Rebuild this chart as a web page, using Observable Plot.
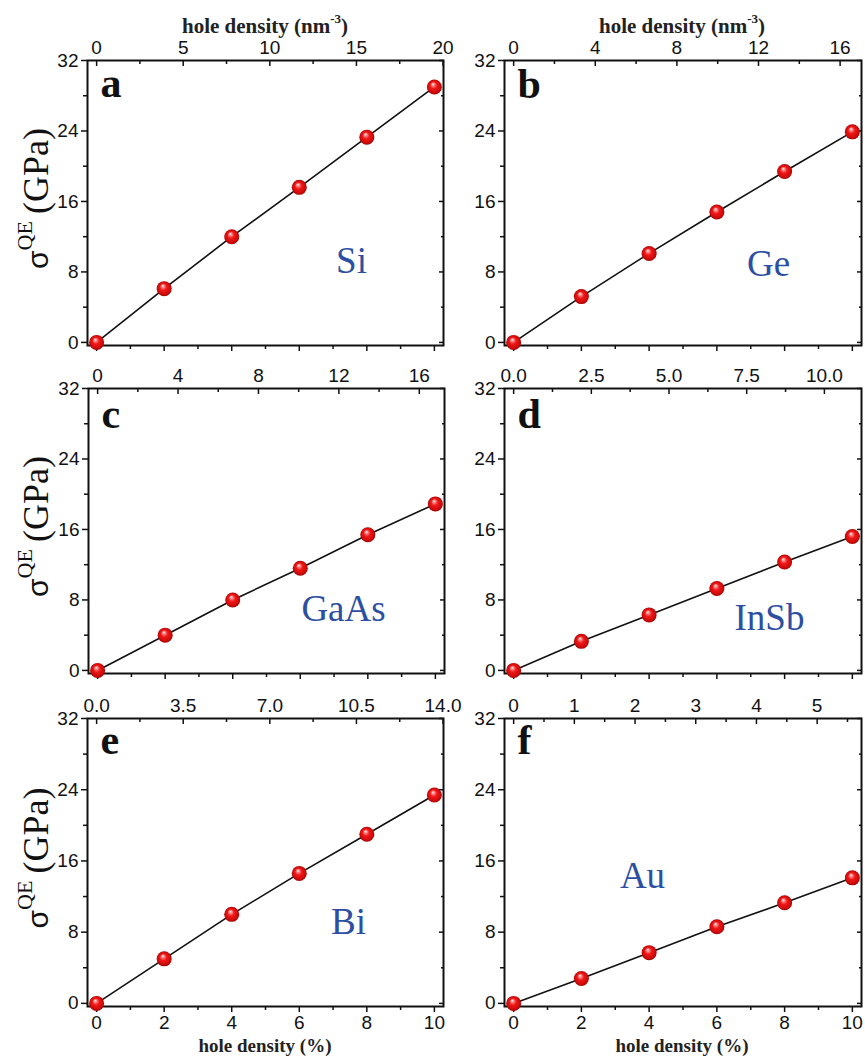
<!DOCTYPE html>
<html><head><meta charset="utf-8">
<script src="https://cdn.jsdelivr.net/npm/d3@7"></script>
<script src="https://cdn.jsdelivr.net/npm/@observablehq/plot@0.6"></script>
<style>
body{margin:0;background:#fff;}
#wrap{position:relative;width:865px;height:1058px;overflow:hidden;}
#wrap svg{position:absolute;}
</style></head><body>
<svg width="0" height="0" style="position:absolute"><defs>
<radialGradient id="ball" cx="0.5" cy="0.5" r="0.5" fx="0.4" fy="0.3">
<stop offset="0" stop-color="#ffffff"/>
<stop offset="0.18" stop-color="#ff8c8c"/>
<stop offset="0.45" stop-color="#f01818"/>
<stop offset="0.85" stop-color="#cc0a0a"/>
<stop offset="1" stop-color="#a00000"/>
</radialGradient></defs></svg>
<div id="wrap"></div>
<script>
// ---- data ----
const holePct = [0, 2, 4, 6, 8, 10];               // hole density (%)
const materials = ["Si", "Ge", "GaAs", "InSb", "Bi", "Au"];
const letters = ["a", "b", "c", "d", "e", "f"];
const stressSi   = [0, 6.1, 12.0, 17.6, 23.3, 29.0];   // sigma^QE (GPa)
const stressGe   = [0, 5.2, 10.1, 14.8, 19.4, 23.9];
const stressGaAs = [0, 4.0, 8.0, 11.6, 15.4, 18.9];
const stressInSb = [0, 3.3, 6.3, 9.3, 12.3, 15.2];
const stressBi   = [0, 5.0, 10.0, 14.6, 19.0, 23.4];
const stressAu   = [0, 2.8, 5.7, 8.6, 11.3, 14.1];
// hole density (nm^-3) that corresponds to 10 % holes, per material (top axes)
const nmAt10 = [19.5, 16.6, 16.8, 10.9, 13.65, 5.58];
const topLabelsSi   = ["0", "5", "10", "15", "20"];
const topLabelsGe   = ["0", "4", "8", "12", "16"];
const topLabelsGaAs = ["0", "4", "8", "12", "16"];
const topLabelsInSb = ["0.0", "2.5", "5.0", "7.5", "10.0"];
const topLabelsBi   = ["0.0", "3.5", "7.0", "10.5", "14.0"];
const topLabelsAu   = ["0", "1", "2", "3", "4", "5"];
const topMinorSi   = [2.5, 7.5, 12.5, 17.5];
const topMinorGe   = [2, 6, 10, 14];
const topMinorGaAs = [2, 6, 10, 14];
const topMinorInSb = [1.25, 3.75, 6.25, 8.75];
const topMinorBi   = [1.75, 5.25, 8.75, 12.25];
const topMinorAu   = [0.5, 1.5, 2.5, 3.5, 4.5, 5.5];
const yTicks = [0, 8, 16, 24, 32];
const yMinor = [4, 12, 20, 28];
const pctTicks = [0, 2, 4, 6, 8, 10];
const pctMinor = [1, 3, 5, 7, 9];

const stresses = [stressSi, stressGe, stressGaAs, stressInSb, stressBi, stressAu];
const topLabels = [topLabelsSi, topLabelsGe, topLabelsGaAs, topLabelsInSb, topLabelsBi, topLabelsAu];
const topMinors = [topMinorSi, topMinorGe, topMinorGaAs, topMinorInSb, topMinorBi, topMinorAu];

// ---- layout (positions/sizes) ----
const layout = [
  {left:0,   top:0,   width:450, height:357, mt:60, mb:12, ml:87, mr:7, bottomText:false, letterDy:36, nameDx:264, nameDy:212},
  {left:430, top:0,   width:435, height:357, mt:60, mb:12, ml:74, mr:4, bottomText:false, letterDy:37, nameDx:264, nameDy:215},
  {left:0,   top:345, width:450, height:340, mt:43, mb:12, ml:88, mr:6, bottomText:false, letterDy:39, nameDx:255, nameDy:232},
  {left:430, top:345, width:435, height:340, mt:43, mb:12, ml:74, mr:4, bottomText:false, letterDy:39, nameDx:265, nameDy:241},
  {left:0,   top:680, width:450, height:378, mt:38, mb:52, ml:87, mr:7, bottomText:true,  letterDy:35, nameDx:261, nameDy:215},
  {left:430, top:680, width:435, height:378, mt:38, mb:52, ml:74, mr:4, bottomText:true,  letterDy:35, nameDx:138, nameDy:169}
];
const xDomain = [-0.27, 10.27];
const yDomain = [-0.35, 32];
const blue = "#2d4fa2";

const wrap = document.getElementById("wrap");

materials.forEach((name, p) => {
  const L = layout[p];
  const data = holePct.map((x, i) => ({x, y: stresses[p][i]}));
  const k = nmAt10[p] / 10; // nm^-3 per %
  const inDom = v => v >= xDomain[0] - 1e-9 && v <= xDomain[1] + 1e-9;
  const topPos = topLabels[p].map(s => +s / k).filter(inDom);
  const labelMap = new Map(topLabels[p].map(s => [+s / k, s]));
  const topMinorPos = topMinors[p].map(v => v / k).filter(inDom);

  const marks = [
    Plot.frame({strokeWidth: 2, stroke: "#111"}),
    // left y axis (outward)
    Plot.axisY(yTicks, {anchor: "left", tickSize: 6, tickPadding: 3, strokeWidth: 1.5, fontSize: 19, label: null, tickFormat: d => String(d)}),
    Plot.axisY(yMinor, {anchor: "left", tickSize: 4, strokeWidth: 1.5, fill: "none", label: null}),
    // right y ticks (inward)
    Plot.axisY(yTicks, {anchor: "right", tickSize: 5, dx: -5, strokeWidth: 1.5, fill: "none", label: null}),
    Plot.axisY(yMinor, {anchor: "right", tickSize: 3, dx: -3, strokeWidth: 1.5, fill: "none", label: null}),
    // bottom % axis (outward)
    Plot.axisX(pctTicks, {anchor: "bottom", tickSize: 6, tickPadding: 3, strokeWidth: 1.5, fontSize: 19, label: null,
      fill: L.bottomText ? "currentColor" : "none", tickFormat: d => String(d)}),
    Plot.axisX(pctMinor, {anchor: "bottom", tickSize: 4, strokeWidth: 1.5, fill: "none", label: null}),
    // top nm^-3 axis (inward ticks)
    Plot.axisX(topPos, {anchor: "top", tickSize: 5, dy: 5, strokeWidth: 1.5, fill: "none", label: null}),
    Plot.axisX(topMinorPos, {anchor: "top", tickSize: 3, dy: 3, strokeWidth: 1.5, fill: "none", label: null}),
    Plot.axisX(topPos, {anchor: "top", tickSize: 0, tickPadding: 7, fontSize: 19, label: null, tickFormat: d => labelMap.get(d)}),
    // data
    Plot.line(data, {x: "x", y: "y", stroke: "#111", strokeWidth: 1.6}),
    Plot.dot(data, {x: "x", y: "y", r: 7.5, fill: "url(#ball)", stroke: "none"}),
    // annotations
    Plot.text([letters[p]], {frameAnchor: "top-left", text: d => d, dx: 13, dy: L.letterDy, textAnchor: "start", lineAnchor: "bottom",
      fontFamily: "Liberation Serif", fontWeight: "bold", fontSize: 42, fill: "#111"}),
    Plot.text([name], {frameAnchor: "top-left", text: d => d, dx: L.nameDx, dy: L.nameDy, textAnchor: "middle", lineAnchor: "bottom",
      fontFamily: "Liberation Serif", fontSize: 37, fill: blue})
  ];

  const svg = Plot.plot({
    width: L.width, height: L.height,
    marginTop: L.mt, marginBottom: L.mb, marginLeft: L.ml, marginRight: L.mr,
    x: {domain: xDomain},
    y: {domain: yDomain},
    style: {fontFamily: "Liberation Sans", fontSize: "19px", color: "#111", background: "transparent", overflow: "visible"},
    marks
  });
  svg.style.left = L.left + "px";
  svg.style.top = L.top + "px";
  svg.style.maxWidth = "none";
  wrap.appendChild(svg);
});

// ---- axis titles (text) ----
const topTitle = "hole density (nm";
const topSup = "-3";
const bottomTitle = "hole density (%)";
const ns = "http://www.w3.org/2000/svg";
const ov = document.createElementNS(ns, "svg");
ov.setAttribute("width", 865); ov.setAttribute("height", 1058);
ov.style.left = "0px"; ov.style.top = "0px"; ov.style.pointerEvents = "none";
let html = "";
[265, 682].forEach(cx => {
  html += `<text x="${cx}" y="33" text-anchor="middle" font-family="Liberation Serif" font-weight="bold" font-size="21" fill="#222">${topTitle}<tspan dy="-10" font-size="13">${topSup}</tspan><tspan dy="10">)</tspan></text>`;
  html += `<text x="${cx}" y="1052" text-anchor="middle" font-family="Liberation Serif" font-weight="bold" font-size="19" fill="#222">${bottomTitle}</text>`;
});
[198.5, 526.5, 858].forEach(cy => {
  html += `<text transform="translate(48,${cy}) rotate(-90)" text-anchor="middle" fill="#111"><tspan font-family="Liberation Sans" font-size="30">σ</tspan><tspan font-family="Liberation Serif" font-size="22" dy="-16">QE</tspan><tspan font-family="Liberation Serif" font-size="36" dy="16" dx="7">(GPa)</tspan></text>`;
});
ov.innerHTML = html;
wrap.appendChild(ov);
</script>
</body></html>
